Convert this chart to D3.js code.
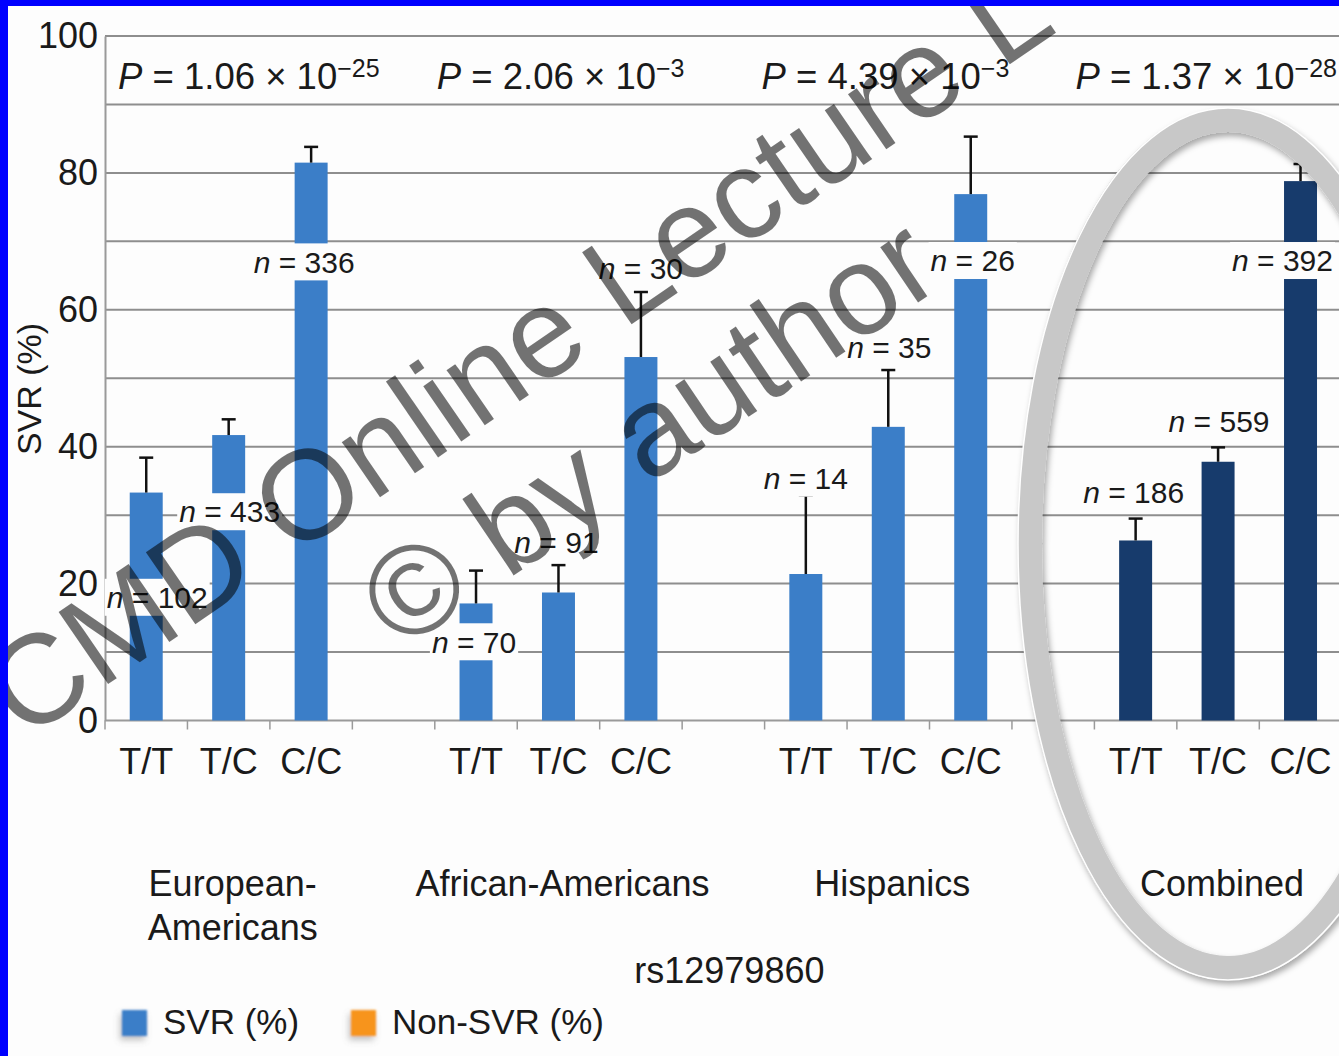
<!DOCTYPE html>
<html>
<head>
<meta charset="utf-8">
<script src="https://cdn.jsdelivr.net/npm/d3@7"></script>
<style>
  html, body { margin: 0; padding: 0; background: #ffffff; }
  svg { display: block; }
  text { font-family: "Liberation Sans", Arial, Helvetica, sans-serif; fill: #1a1a1a; }
</style>
</head>
<body>
<svg id="chart" width="1339" height="1056"></svg>
<script>
// ---- data ----
const genotypes = ["T/T", "T/C", "C/C"];
const groups = ["European-Americans", "African-Americans", "Hispanics", "Combined"];
const groupLabelLines = [["European-", "Americans"], ["African-Americans"], ["Hispanics"], ["Combined"]];

// SVR rate (%) per genotype, T/T, T/C, C/C
const svrEuropean = [33.3, 41.7, 81.5];
const svrAfrican  = [17.1, 18.7, 53.1];
const svrHispanic = [21.4, 42.9, 76.9];
const svrCombined = [26.3, 37.8, 78.8];

// upper error (percentage points)
const errEuropean = [5.1, 2.3, 2.3];
const errAfrican  = [4.8, 4.0, 9.5];
const errHispanic = [11.5, 8.3, 8.4];
const errCombined = [3.2, 2.1, 2.5];

// patients per genotype
const nEuropean = [102, 433, 336];
const nAfrican  = [70, 91, 30];
const nHispanic = [14, 35, 26];
const nCombined = [186, 559, 392];

// trend-test P values per group
const pMantissa = ["1.06", "2.06", "4.39", "1.37"];
const pExponent = ["\u221225", "\u22123", "\u22123", "\u221228"];

const yTickValues = [0, 20, 40, 60, 80, 100];
const legendLabels = ["SVR (%)", "Non-SVR (%)"];
const snpName = "rs12979860";
const yTitle = "SVR (%)";

// ---- layout ----
const W = 1339, H = 1056;
const svg = d3.select("#chart");
const FONT = "\"Liberation Sans\", Arial, Helvetica, sans-serif";

const svrByGroup = [svrEuropean, svrAfrican, svrHispanic, svrCombined];
const errByGroup = [errEuropean, errAfrican, errHispanic, errCombined];
const nByGroup = [nEuropean, nAfrican, nHispanic, nCombined];

// three genotype slots per group plus one empty spacer slot between groups
const slotsPerGroup = 4;
const slotCount = groups.length * slotsPerGroup - 1;
const slotOf = (g, k) => g * slotsPerGroup + k;

const rows = [];
groups.forEach((grp, g) => genotypes.forEach((gt, k) => rows.push({
  g, k, group: grp, genotype: gt,
  svr: svrByGroup[g][k], err: errByGroup[g][k], n: nByGroup[g][k], slot: slotOf(g, k)
})));

const x = d3.scaleBand()
  .domain(d3.range(slotCount))
  .range([105, 105 + slotCount * 82.45])
  .paddingInner(0.6)
  .paddingOuter(0.3);
const y = d3.scaleLinear().domain([0, 100]).range([720.5, 36]);
const bw = x.bandwidth();
const step = x.step();
const x0 = x.range()[0];

// n-label placement: horizontal nudge from bar centre (px) and vertical centre (in % units)
const nLabelPlacement = [
  [{dx: 11, v: 18.0}, {dx: 1, v: 30.5}, {dx: -7, v: 67.0}],
  [{dx: -2, v: 11.5}, {dx: -2, v: 26.0}, {dx: 0, v: 66.0}],
  [{dx: 0, v: 35.4}, {dx: 1, v: 54.6}, {dx: 2, v: 67.2}],
  [{dx: -2, v: 33.4}, {dx: 1, v: 43.7}, {dx: -18, v: 67.2}]
];
const pLabelDx = [13, 2, -3, -19];

const barColor = g => g === 3 ? "#173b6c" : "#3b7ec8";

const defs = svg.append("defs");
const shadow = defs.append("filter").attr("id", "ringShadow")
  .attr("x", "-10%").attr("y", "-10%").attr("width", "120%").attr("height", "120%");
shadow.append("feDropShadow").attr("dx", 2).attr("dy", 4).attr("stdDeviation", 3)
  .attr("flood-color", "#000").attr("flood-opacity", 0.35);
const soft = defs.append("filter").attr("id", "softKey")
  .attr("x", "-60%").attr("y", "-60%").attr("width", "220%").attr("height", "220%");
soft.append("feGaussianBlur").attr("in", "SourceGraphic").attr("stdDeviation", 1.2).attr("result", "b");
soft.append("feDropShadow").attr("in", "b").attr("dx", -2).attr("dy", 4).attr("stdDeviation", 3)
  .attr("flood-color", "#777").attr("flood-opacity", 0.45);

svg.append("rect").attr("width", W).attr("height", H).attr("fill", "#fdfdfd");

// ---- grid ----
const gridVals = d3.range(10, 101, 10);
svg.append("g").selectAll("line").data(gridVals).join("line")
  .attr("x1", 105).attr("x2", W)
  .attr("y1", d => y(d)).attr("y2", d => y(d))
  .attr("stroke", "#8e8e8e").attr("stroke-width", 2);

// ---- y axis ----
const yAxis = svg.append("g").attr("transform", "translate(105,0)")
  .call(d3.axisLeft(y).tickValues(yTickValues).tickSize(0).tickSizeOuter(0).tickPadding(7));
yAxis.select(".domain").attr("stroke", "#9a9a9a").attr("stroke-width", 2);
yAxis.selectAll("text").attr("font-size", 36).attr("font-family", FONT).attr("fill", "#1a1a1a");

svg.append("text")
  .attr("transform", "translate(41,389) rotate(-90)")
  .attr("text-anchor", "middle").attr("font-size", 34)
  .text(yTitle);

// ---- x axis ----
svg.append("line").attr("x1", 105).attr("x2", W)
  .attr("y1", y(0)).attr("y2", y(0))
  .attr("stroke", "#9a9a9a").attr("stroke-width", 2);
svg.append("g").selectAll("line").data(d3.range(slotCount + 1)).join("line")
  .attr("x1", i => x0 + i * step).attr("x2", i => x0 + i * step)
  .attr("y1", y(0)).attr("y2", y(0) + 9)
  .attr("stroke", "#9a9a9a").attr("stroke-width", 1.5);

const xAxis = svg.append("g").attr("transform", `translate(0,${y(0)})`)
  .call(d3.axisBottom(x)
    .tickFormat(i => (i % slotsPerGroup) < 3 ? genotypes[i % slotsPerGroup] : "")
    .tickSize(0).tickPadding(28));
xAxis.select(".domain").remove();
xAxis.selectAll("text").attr("font-size", 36).attr("font-family", FONT).attr("fill", "#1a1a1a");

// ---- bars ----
svg.append("g").selectAll("rect").data(rows).join("rect")
  .attr("x", d => x(d.slot)).attr("width", bw)
  .attr("y", d => y(d.svr)).attr("height", d => y(0) - y(d.svr))
  .attr("fill", d => barColor(d.g));

// ---- error bars (upper only) ----
const eb = svg.append("g").attr("stroke", "#111").attr("stroke-width", 2.5);
rows.forEach(d => {
  const cx = x(d.slot) + bw / 2;
  eb.append("line").attr("x1", cx).attr("x2", cx).attr("y1", y(d.svr)).attr("y2", y(d.svr + d.err));
  eb.append("line").attr("x1", cx - 7).attr("x2", cx + 7).attr("y1", y(d.svr + d.err)).attr("y2", y(d.svr + d.err));
});

// ---- n labels on white plates ----
const nLayer = svg.append("g");
rows.forEach(d => {
  const pl = nLabelPlacement[d.g][d.k];
  const cx = x(d.slot) + bw / 2 + pl.dx;
  const cy = y(pl.v);
  const gEl = nLayer.append("g");
  const plate = gEl.append("rect").attr("fill", "#fdfdfd");
  const t = gEl.append("text").attr("x", cx).attr("y", cy + 0.358 * 30)
    .attr("text-anchor", "middle").attr("font-size", 30);
  t.append("tspan").attr("font-style", "italic").text("n");
  t.append("tspan").text(" = " + d.n);
  const bb = t.node().getBBox();
  plate.attr("x", bb.x - 2).attr("width", bb.width + 4)
    .attr("y", cy - 18.5).attr("height", 37);
});

// ---- P values ----
groups.forEach((grp, g) => {
  const t = svg.append("text")
    .attr("x", x0 + slotOf(g, 0) * step + pLabelDx[g]).attr("y", 89)
    .attr("font-size", 36.5);
  t.append("tspan").attr("font-style", "italic").text("P");
  t.append("tspan").text(" = " + pMantissa[g] + " \u00d7 10");
  t.append("tspan").attr("font-size", 25).attr("dy", -12).text(pExponent[g]);
});

// ---- group labels ----
groups.forEach((grp, g) => {
  const cx = x(slotOf(g, 1)) + bw / 2 + 4;
  const t = svg.append("text").attr("text-anchor", "middle").attr("font-size", 36);
  groupLabelLines[g].forEach((line, i) => {
    t.append("tspan").attr("x", cx).attr("y", 896 + i * 44).text(line);
  });
});

svg.append("text").attr("x", (x0 + slotCount * step + x0) / 2 + 6).attr("y", 983)
  .attr("text-anchor", "middle").attr("font-size", 36).text(snpName);

// ---- legend ----
const legendColors = ["#3b7ec8", "#f7941d"];
const legendX = [122, 351];
legendLabels.forEach((lab, i) => {
  svg.append("rect").attr("x", legendX[i]).attr("y", 1010).attr("width", 25).attr("height", 26)
    .attr("fill", legendColors[i]).attr("filter", "url(#softKey)");
  svg.append("text").attr("x", legendX[i] + 41).attr("y", 1034).attr("font-size", 35).text(lab);
});

// ---- highlight ring around the combined group ----
const ring = { cx: 1228, cy: 544, rx: 198, ry: 424 };
svg.append("ellipse").attr("cx", ring.cx).attr("cy", ring.cy).attr("rx", ring.rx).attr("ry", ring.ry)
  .attr("fill", "none").attr("stroke", "#c8c8c8").attr("stroke-width", 24)
  .attr("filter", "url(#ringShadow)");
svg.append("ellipse").attr("cx", ring.cx).attr("cy", ring.cy).attr("rx", ring.rx + 12).attr("ry", ring.ry + 12)
  .attr("fill", "none").attr("stroke", "#ffffff").attr("stroke-width", 1.5);

// ---- watermark ----
const wm = svg.append("g").attr("pointer-events", "none");
[["CMD Online Lecture L", 24, 742, -34.5], ["\u00a9 by author", 400, 652, -34]].forEach(([txt, wx, wy, ang]) => {
  wm.append("text").attr("transform", `translate(${wx},${wy}) rotate(${ang})`)
    .attr("font-size", 127).attr("fill-opacity", 0.55)
    .style("fill", "#000").text(txt);
});

// ---- slide frame ----
svg.append("rect").attr("x", 0).attr("y", 0).attr("width", 8).attr("height", H).attr("fill", "#0000ff");
svg.append("rect").attr("x", 0).attr("y", 0).attr("width", W).attr("height", 6).attr("fill", "#0000ff");
</script>
</body>
</html>
